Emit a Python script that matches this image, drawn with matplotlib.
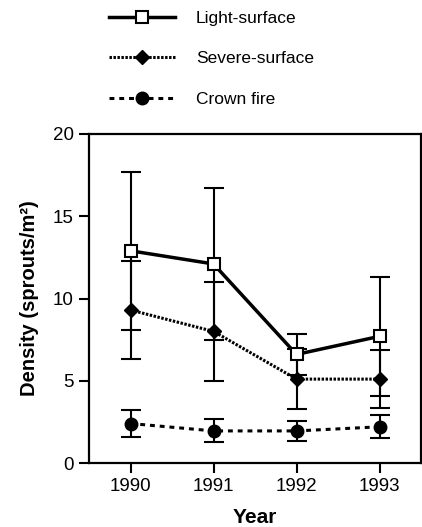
import numpy as np
import matplotlib.pyplot as plt

plt.rcParams['font.family'] = ['Liberation Sans', 'DejaVu Sans']

# data
years = [1990, 1991, 1992, 1993]
light = [12.9, 12.1, 6.6, 7.7]
light_err = [4.8, 4.6, 1.25, 3.6]
severe = [9.3, 8.0, 5.1, 5.1]
severe_err = [3.0, 3.0, 1.8, 1.75]
crown = [2.4, 1.95, 1.95, 2.2]
crown_err = [0.8, 0.7, 0.6, 0.7]
labels = ['Light-surface', 'Severe-surface', 'Crown fire']

fig = plt.figure(figsize=(4.22, 5.27), dpi=100)
ax = fig.add_axes([89 / 422, 64 / 527, 332 / 422, 329 / 527])

# error bars first, drawn under the markers
for vals, errs in [(light, light_err), (severe, severe_err), (crown, crown_err)]:
    ax.errorbar(years, vals, yerr=errs, fmt='none', ecolor='black',
                elinewidth=1.5, capsize=7, capthick=1.5, zorder=2)

h1, = ax.plot(years, light, color='black', lw=2.5, ls='-', marker='s',
              ms=8, mfc='white', mec='black', mew=1.5, zorder=4)
h2, = ax.plot(years, severe, color='black', lw=2.2, ls=(0, (0.8, 0.5)),
              marker='D', ms=7.5, mfc='black', mec='black', zorder=3)
h3, = ax.plot(years, crown, color='black', lw=2.2, ls=(0, (1.6, 1.6)),
              marker='o', ms=9, mfc='black', mec='black', zorder=3)

ax.set_xlim(1989.5, 1993.5)
ax.set_ylim(0, 20)
ax.set_xticks(years)
ax.set_yticks([0, 5, 10, 15, 20])
ax.tick_params(direction='out', length=7, width=1.5, labelsize=13.5, pad=4)
for s in ax.spines.values():
    s.set_linewidth(1.6)

ax.set_xlabel('Year', fontsize=15, fontweight='bold', labelpad=9)
ax.set_ylabel('Density (sprouts/m²)', fontsize=14.5, fontweight='bold', labelpad=10)

fig.legend([h1, h2, h3], labels, loc='upper left',
           bbox_to_anchor=(109 / 422, 1 - 11 / 527), frameon=False,
           fontsize=12.5, handlelength=3.8, handletextpad=1.2,
           labelspacing=1.45, numpoints=1, borderpad=0, borderaxespad=0)

fig.savefig('out.png', dpi=100)
